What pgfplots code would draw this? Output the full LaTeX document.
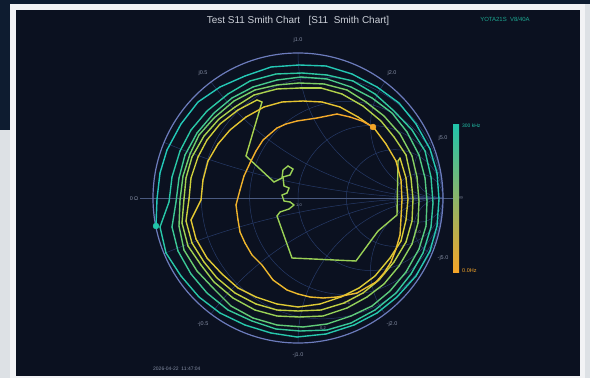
\documentclass[border=0pt]{standalone}
\usepackage{pgfplots}
\pgfplotsset{compat=1.18}
\usepackage{fontspec}
\setmainfont{Liberation Sans}
\definecolor{outerbg}{HTML}{DDE1E5}
\definecolor{photo}{HTML}{0E1C30}
\definecolor{frame}{HTML}{F2F3F5}
\definecolor{panel}{HTML}{0B1120}
\definecolor{gridc}{HTML}{263A68}
\definecolor{rimc}{HTML}{6C7CBC}
\definecolor{axisln}{HTML}{4A5A80}
\definecolor{lbl}{HTML}{858EA4}
\definecolor{titlec}{HTML}{CDD1D9}
\definecolor{tealc}{RGB}{34,196,170}
\definecolor{orangec}{RGB}{245,165,40}
\definecolor{cbmid}{RGB}{160,200,80}
\pgfplotstableread{
x y m
156 -226 0.00
157 -199 0.00
160 -173 0.03
167 -150 0.06
181 -124 0.09
198 -102 0.12
220 -87 0.16
245 -76 0.19
271 -67 0.22
299 -65 0.25
326 -66 0.28
352 -74 0.31
377 -87 0.34
399 -103 0.38
416 -124 0.41
430 -149 0.44
437 -173 0.47
439 -199 0.50
437 -226 0.53
430 -251 0.56
416 -276 0.59
397 -297 0.62
377 -313 0.66
354 -325 0.69
326 -334 0.72
297 -337 0.75
271 -333 0.78
245 -325 0.81
220 -313 0.84
199 -297 0.88
181 -276 0.91
166 -253 0.94
160 -227 0.97
169 -202 1.00
172 -177 1.03
180 -151 1.06
191 -130 1.09
207 -111 1.12
228 -94 1.16
250 -81 1.19
276 -74 1.22
302 -73 1.25
327 -75 1.28
353 -81 1.31
375 -94 1.34
394 -111 1.38
412 -130 1.41
425 -151 1.44
431 -177 1.47
433 -203 1.50
431 -227 1.53
423 -253 1.56
411 -274 1.59
396 -293 1.62
375 -310 1.66
351 -323 1.69
327 -330 1.72
300 -331 1.75
276 -329 1.78
252 -321 1.81
228 -310 1.84
207 -293 1.88
191 -274 1.91
178 -251 1.94
172 -227 1.97
176 -202 2.00
179 -178 2.03
185 -155 2.06
197 -133 2.09
214 -113 2.12
232 -98 2.16
253 -87 2.19
277 -80 2.22
301 -77 2.25
327 -79 2.28
351 -87 2.31
372 -98 2.34
392 -113 2.38
407 -132 2.41
419 -155 2.44
425 -178 2.47
427 -201 2.50
426 -226 2.53
419 -249 2.56
406 -272 2.59
390 -291 2.62
372 -306 2.66
351 -316 2.69
327 -324 2.72
303 -327 2.75
277 -325 2.78
253 -318 2.81
231 -306 2.84
214 -289 2.88
197 -271 2.91
184 -250 2.94
179 -226 2.97
180 -200 3.00
183 -176 3.03
190 -154 3.06
199 -135 3.09
214 -118 3.12
234 -101 3.16
255 -90 3.19
277 -85 3.22
299 -83 3.25
324 -84 3.28
347 -90 3.31
366 -102 3.34
384 -116 3.38
400 -134 3.41
412 -156 3.44
417 -177 3.47
419 -201 3.50
418 -223 3.53
412 -244 3.56
399 -266 3.59
384 -284 3.62
367 -297 3.66
347 -308 3.69
323 -316 3.72
299 -317 3.75
277 -316 3.78
255 -310 3.81
233 -298 3.84
214 -282 3.88
201 -265 3.91
188 -246 3.94
182 -223 3.97
184 -199 4.00
186 -178 4.03
192 -157 4.06
204 -136 4.09
219 -119 4.12
235 -107 4.16
254 -95 4.19
277 -89 4.22
300 -88 4.25
321 -88 4.28
342 -94 4.31
363 -106 4.34
381 -121 4.38
394 -137 4.41
406 -155 4.44
411 -178 4.47
413 -199 4.50
412 -221 4.53
406 -242 4.56
394 -262 4.59
379 -280 4.62
363 -293 4.66
344 -303 4.69
321 -310 4.72
298 -311 4.75
277 -310 4.78
256 -304 4.81
235 -293 4.84
217 -278 4.88
204 -262 4.91
192 -243 4.94
186 -221 4.97
189 -199 5.00
191 -178 5.03
198 -157 5.06
207 -140 5.09
220 -124 5.12
238 -110 5.16
257 -100 5.19
262 -102 4.3
246 -156 3.8
274 -182 3.8
282 -178 3.8
283 -170 3.8
288 -166 3.8
293 -169 3.8
290 -175 3.8
283 -177 3.8
284 -186 3.8
289 -188 3.8
287 -193 3.8
282 -195 3.8
284 -201 3.8
290 -202 3.8
294 -205 3.8
289 -209 3.8
280 -212 3.8
277 -216 3.8
292 -258 3.8
356 -261 3.8
378 -231 3.8
397 -215 3.8
398 -161 3.9
400 -158 5.44
406 -178 5.47
408 -199 5.50
406 -220 5.53
401 -241 5.56
390 -258 5.59
375 -276 5.62
359 -288 5.66
341 -297 5.69
320 -304 5.72
298 -307 5.75
277 -304 5.78
256 -297 5.81
238 -288 5.84
222 -274 5.88
207 -258 5.91
196 -239 5.94
191 -220 5.97
201 -200 6.00
203 -180 6.03
208 -161 6.06
218 -144 6.09
230 -130 6.12
246 -117 6.16
264 -107 6.19
282 -102 6.22
303 -101 6.25
322 -102 6.28
340 -107 6.31
358 -117 6.34
374 -128 6.38
386 -144 6.41
396 -161 6.44
401 -180 6.47
402 -200 6.50
401 -218 6.53
400 -235 6.56
396 -249 6.59
391 -262 6.62
384 -273 6.66
376 -282 6.69
357 -293 6.75
337 -297 6.81
323 -298 6.84
310 -297 6.88
298 -294 6.91
287 -290 6.94
273 -280 7.00
262 -265 7.06
252 -255 7.09
245 -243 7.12
240 -232 7.16
238 -220 7.19
236 -205 7.25
240 -190 7.31
244 -176 7.34
250 -163 7.38
256 -151 7.41
263 -140 7.44
277 -128 7.50
286 -124 7.53
297 -121 7.56
317 -118 7.62
337 -114 7.69
350 -117 7.75
362 -121 7.81
373 -127 7.90
}\trace
\begin{document}
\begin{tikzpicture}
\begin{axis}[
  scale only axis, width=590bp, height=378bp,
  xmin=0, xmax=590, ymin=-378, ymax=0,
  hide axis, clip=false,
  colormap={smith}{rgb255=(35,200,185) rgb255=(40,200,168) rgb255=(60,200,148) rgb255=(110,205,110) rgb255=(165,210,80) rgb255=(205,208,60) rgb255=(228,200,50) rgb255=(238,185,45) rgb255=(245,160,40)},
  point meta min=0, point meta max=8,
]
% frame and panel
\fill[outerbg] (axis cs:0,-378) rectangle (axis cs:590,0);
\fill[photo] (axis cs:0,-4) rectangle (axis cs:590,0);
\fill[photo] (axis cs:0,-130) rectangle (axis cs:10,0);
\fill[frame] (axis cs:10,-378) rectangle (axis cs:585,-4);
\fill[panel] (axis cs:16,-376) rectangle (axis cs:580,-10);
% Smith grid
\begin{scope}
\clip (axis cs:298,-198) circle[radius=145bp];
\begin{scope}[gridc, line width=0.5pt]
\draw (axis cs:322.17,-198) circle[radius=120.83bp];
\draw (axis cs:346.33,-198) circle[radius=96.67bp];
\draw (axis cs:370.5,-198) circle[radius=72.5bp];
\draw (axis cs:394.67,-198) circle[radius=48.33bp];
\draw (axis cs:418.83,-198) circle[radius=24.17bp];
\draw (axis cs:443,527) circle[radius=725bp];
\draw (axis cs:443,-923) circle[radius=725bp];
\draw (axis cs:443,92) circle[radius=290bp];
\draw (axis cs:443,-488) circle[radius=290bp];
\draw (axis cs:443,-53) circle[radius=145bp];
\draw (axis cs:443,-343) circle[radius=145bp];
\draw (axis cs:443,-125.5) circle[radius=72.5bp];
\draw (axis cs:443,-270.5) circle[radius=72.5bp];
\draw (axis cs:443,-169) circle[radius=29bp];
\draw (axis cs:443,-227) circle[radius=29bp];
\end{scope}
\end{scope}
\draw[axisln, line width=0.6pt] (axis cs:140,-198) -- (axis cs:457,-198);
\draw[rimc, line width=1.2pt] (axis cs:298,-198) circle[radius=145bp];
% labels
\begin{scope}[every node/.style={text=lbl, font=\fontsize{5.5}{6}\selectfont, inner sep=0pt}]
\node at (axis cs:298,-40) {j1.0};
\node at (axis cs:203,-73) {j0.5};
\node at (axis cs:392,-73) {j2.0};
\node at (axis cs:443,-138) {j5.0};
\node at (axis cs:443,-258) {-j5.0};
\node at (axis cs:392,-324) {-j2.0};
\node at (axis cs:203,-324) {-j0.5};
\node at (axis cs:298,-355) {-j1.0};
\node at (axis cs:134,-199) {0$\,$Ω};
\node at (axis cs:461,-198) {∞};
\node[font=\fontsize{4}{5}\selectfont] at (axis cs:299,-205) {1.0};
\node[font=\fontsize{4}{5}\selectfont] at (axis cs:347,-303) {0.5};
\node[font=\fontsize{4}{5}\selectfont] at (axis cs:323,-328) {0.2};
\node[font=\fontsize{4}{5}\selectfont] at (axis cs:418,-232) {2.0};
\end{scope}
% trace
\addplot[mesh, point meta=explicit, line width=1.4pt, line cap=round, line join=round] table[x=x, y=y, meta=m] {\trace};
\addplot[only marks, mark=*, mark size=3pt, tealc, mark options={draw=tealc, fill=tealc}] coordinates {(156,-226)};
\addplot[only marks, mark=*, mark size=3pt, orangec, mark options={draw=orangec, fill=orangec}] coordinates {(373,-127)};
% colorbar
\shade[top color=tealc, middle color=cbmid, bottom color=orangec] (axis cs:453,-272) rectangle (axis cs:459,-125);
\node[anchor=west, text=tealc, font=\fontsize{5}{6}\selectfont, inner sep=0pt] at (axis cs:462,-126) {300 kHz};
\node[anchor=west, text=orangec, font=\fontsize{5.5}{6}\selectfont, inner sep=0pt] at (axis cs:462,-271) {0.0Hz};
% title and texts
\node[text=titlec, font=\fontsize{10}{12}\selectfont, inner sep=0pt] at (axis cs:298,-21) {Test S11 Smith Chart \ \ [S11 \ Smith Chart]};
\node[text=tealc!85!black, font=\fontsize{6}{7}\selectfont, inner sep=0pt] at (axis cs:505,-19) {YOTA21S \ V8/40A};
\node[anchor=west, text=lbl, font=\fontsize{5}{6}\selectfont, inner sep=0pt] at (axis cs:153,-369) {2026-04-22 \ 11:47:04};
\end{axis}
\end{tikzpicture}
\end{document}
